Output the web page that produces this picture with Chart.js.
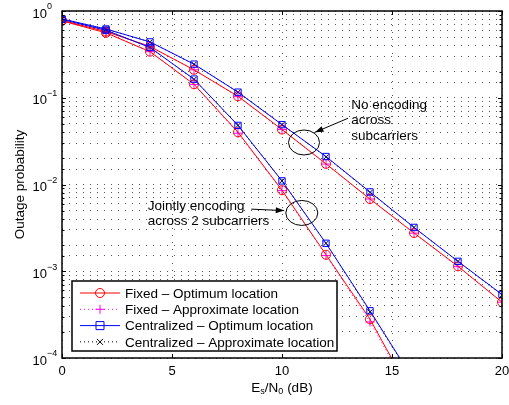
<!DOCTYPE html>
<html>
<head>
<meta charset="utf-8">
<script src="https://cdn.jsdelivr.net/npm/chart.js@4"></script>
<style>
  html, body { margin: 0; padding: 0; background: #fff; }
  #box { width: 509px; height: 405px; position: relative; }
</style>
</head>
<body>
<div id="box"><canvas id="plotGraph"></canvas></div>
<script>
// データ (Es/N0 [dB] と Outage probability)
const snrUpper = [0, 2, 4, 6, 8, 10, 12, 14, 16, 18, 20]
const snrLower = [0, 2, 4, 6, 8, 10, 12, 14, 16]

// No encoding across subcarriers
const fixedOptUpper = [0.78, 0.58, 0.39, 0.21, 0.104, 0.043, 0.0173, 0.0068, 0.00276, 0.00114, 0.00044]
const fixedApxUpper = [0.78, 0.58, 0.39, 0.21, 0.103, 0.043, 0.0172, 0.0068, 0.00275, 0.00113, 0.00044]
const centOptUpper = [0.81, 0.62, 0.44, 0.244, 0.116, 0.049, 0.021, 0.0082, 0.0032, 0.0013, 0.00054]
const centApxUpper = [0.81, 0.62, 0.44, 0.243, 0.116, 0.049, 0.0208, 0.0081, 0.0032, 0.0013, 0.00053]

// Jointly encoding across 2 subcarriers
const fixedOptLower = [0.77, 0.56, 0.34, 0.143, 0.040, 0.0086, 0.00155, 0.00028, 0.000034]
const fixedApxLower = [0.77, 0.56, 0.34, 0.142, 0.039, 0.0085, 0.00152, 0.00026, 0.000033]
const centOptLower = [0.80, 0.60, 0.38, 0.164, 0.048, 0.011, 0.0021, 0.00035, 0.000055]
const centApxLower = [0.80, 0.60, 0.38, 0.163, 0.048, 0.011, 0.0021, 0.00034, 0.000054]

const xTicks = [0, 5, 10, 15, 20]
const yTicks = [1, 0.1, 0.01, 0.001, 0.0001]
const yTickExp = ["0", "\u22121", "\u22122", "\u22123", "\u22124"]
const legendLabels = [
  "Fixed \u2013 Optimum location",
  "Fixed \u2013 Approximate location",
  "Centralized \u2013 Optimum location",
  "Centralized \u2013 Approximate location"
]

const FONT = '"Liberation Sans", Arial, sans-serif'

// 2つのグループを null で区切って1本のデータにする
function joinGroups(upper, lower) {
  let arr = []
  for (let i = 0; i < snrUpper.length; i++) arr.push({ x: snrUpper[i], y: upper[i] })
  arr.push({ x: 20, y: null })
  for (let i = 0; i < snrLower.length; i++) arr.push({ x: snrLower[i], y: lower[i] })
  return arr
}

// マーカー描画
function drawMarker(ctx, style, x, y, color) {
  ctx.save()
  ctx.strokeStyle = color
  ctx.lineWidth = 1
  ctx.setLineDash([])
  ctx.beginPath()
  if (style === 'circle') {
    ctx.arc(x, y, 4.5, 0, Math.PI * 2)
  } else if (style === 'rect') {
    ctx.rect(x - 4, y - 4, 8, 8)
  } else if (style === 'cross') {
    ctx.moveTo(x - 4.5, y); ctx.lineTo(x + 4.5, y)
    ctx.moveTo(x, y - 4.5); ctx.lineTo(x, y + 4.5)
  } else if (style === 'crossRot') {
    ctx.moveTo(x - 3, y - 3); ctx.lineTo(x + 3, y + 3)
    ctx.moveTo(x + 3, y - 3); ctx.lineTo(x - 3, y + 3)
  }
  ctx.stroke()
  ctx.restore()
}

// 軸ラベル・枠・凡例・注釈
const decorPlugin = {
  id: 'decor',
  afterDraw(chart) {
    const ctx = chart.ctx
    const xs = chart.scales.x
    const ys = chart.scales.y
    const a = chart.chartArea

    ctx.save()
    // 枠と目盛り
    ctx.strokeStyle = '#000'
    ctx.lineWidth = 1
    ctx.setLineDash([])
    ctx.beginPath()
    for (const v of xTicks) {
      const px = Math.round(xs.getPixelForValue(v)) + 0.5
      ctx.moveTo(px, a.bottom); ctx.lineTo(px, a.bottom - 4)
      ctx.moveTo(px, a.top); ctx.lineTo(px, a.top + 4)
    }
    for (const t of ys.ticks) {
      const py = Math.round(ys.getPixelForValue(t.value)) + 0.5
      const len = t.major ? 4 : 2.5
      ctx.moveTo(a.left, py); ctx.lineTo(a.left + len, py)
      ctx.moveTo(a.right, py); ctx.lineTo(a.right - len, py)
    }
    ctx.stroke()
    ctx.lineWidth = 1.5
    ctx.strokeRect(a.left, a.top, a.right - a.left, a.bottom - a.top)

    // 目盛りラベル
    ctx.fillStyle = '#000'
    ctx.font = '13px ' + FONT
    ctx.textAlign = 'center'
    ctx.textBaseline = 'middle'
    for (const v of xTicks) {
      ctx.fillText(String(v), xs.getPixelForValue(v), a.bottom + 13)
    }
    for (let i = 0; i < yTicks.length; i++) {
      const py = ys.getPixelForValue(yTicks[i])
      ctx.font = '13px ' + FONT
      ctx.textAlign = 'right'
      ctx.fillText('10', a.left - 15, py + 3)
      ctx.font = '9px ' + FONT
      ctx.textAlign = 'left'
      ctx.fillText(yTickExp[i], a.left - 15, py - 4)
    }

    // 軸タイトル
    ctx.font = '13.5px ' + FONT
    ctx.save()
    ctx.translate(20, (a.top + a.bottom) / 2)
    ctx.rotate(-Math.PI / 2)
    ctx.textAlign = 'center'
    ctx.fillText('Outage probability', 0, 0)
    ctx.restore()

    const cx = (a.left + a.right) / 2
    const ty = a.bottom + 30
    const parts = [['E', 13.5, 0], ['s', 9, 4], ['/N', 13.5, 0], ['0', 9, 4], [' (dB)', 13.5, 0]]
    let total = 0
    for (const p of parts) { ctx.font = p[1] + 'px ' + FONT; total += ctx.measureText(p[0]).width }
    let xx = cx - total / 2
    ctx.textAlign = 'left'
    for (const p of parts) {
      ctx.font = p[1] + 'px ' + FONT
      ctx.fillText(p[0], xx, ty + p[2])
      xx += ctx.measureText(p[0]).width
    }

    // 注釈 (楕円・矢印・テキスト)
    ctx.lineWidth = 1
    ctx.strokeStyle = '#000'
    ctx.beginPath()
    ctx.ellipse(xs.getPixelForValue(11.0), ys.getPixelForValue(0.0305), 15.5, 12.5, 0, 0, Math.PI * 2)
    ctx.stroke()
    ctx.beginPath()
    ctx.ellipse(xs.getPixelForValue(10.9), ys.getPixelForValue(0.0047), 16, 12.5, 0, 0, Math.PI * 2)
    ctx.stroke()
    drawArrow(ctx, xs.getPixelForValue(13.0), ys.getPixelForValue(0.058), xs.getPixelForValue(11.5), ys.getPixelForValue(0.040))
    drawArrow(ctx, xs.getPixelForValue(8.6), ys.getPixelForValue(0.0052), xs.getPixelForValue(10.1), ys.getPixelForValue(0.0050))

    ctx.font = '13.5px ' + FONT
    ctx.textAlign = 'left'
    ctx.fillStyle = '#000'
    const tx1 = xs.getPixelForValue(13.15)
    const ty1 = ys.getPixelForValue(0.082)
    ctx.fillText('No encoding', tx1, ty1)
    ctx.fillText('across', tx1, ty1 + 15.5)
    ctx.fillText('subcarriers', tx1, ty1 + 31)
    const tx2 = xs.getPixelForValue(3.9)
    const ty2 = ys.getPixelForValue(0.0056)
    ctx.fillText('Jointly encoding', tx2, ty2)
    ctx.fillText('across 2 subcarriers', tx2, ty2 + 15)

    // 凡例
    const lx = a.left + 10, ly = a.bottom - 77, lw = 265, lh = 70
    ctx.fillStyle = '#fff'
    ctx.fillRect(lx, ly, lw, lh)
    ctx.lineWidth = 1.5
    ctx.strokeRect(lx, ly, lw, lh)
    chart.data.datasets.forEach((ds, i) => {
      const ey = ly + 12 + i * 16.3
      ctx.save()
      ctx.strokeStyle = ds.borderColor
      ctx.lineWidth = 1
      ctx.setLineDash(ds.borderDash || [])
      ctx.beginPath()
      ctx.moveTo(lx + 8, ey); ctx.lineTo(lx + 48, ey)
      ctx.stroke()
      ctx.restore()
      drawMarker(ctx, ds.pointStyle, lx + 28, ey, ds.pointBorderColor)
      ctx.fillStyle = '#000'
      ctx.font = '13.5px ' + FONT
      ctx.textAlign = 'left'
      ctx.fillText(legendLabels[i], lx + 53, ey + 1)
    })
    ctx.restore()
  }
}

function drawArrow(ctx, x1, y1, x2, y2) {
  const ang = Math.atan2(y2 - y1, x2 - x1)
  ctx.beginPath()
  ctx.moveTo(x1, y1); ctx.lineTo(x2, y2)
  ctx.stroke()
  ctx.beginPath()
  ctx.moveTo(x2, y2)
  ctx.lineTo(x2 - 9 * Math.cos(ang - 0.35), y2 - 9 * Math.sin(ang - 0.35))
  ctx.lineTo(x2 - 9 * Math.cos(ang + 0.35), y2 - 9 * Math.sin(ang + 0.35))
  ctx.closePath()
  ctx.fillStyle = '#000'
  ctx.fill()
}

function makeDataset(label, upper, lower, color, markerColor, style, dash) {
  return {
    label: label,
    data: joinGroups(upper, lower),
    borderColor: color,
    borderWidth: 1,
    borderDash: dash,
    pointStyle: style,
    pointRadius: style === 'crossRot' ? 3.5 : 4.5,
    pointBorderColor: markerColor,
    pointBackgroundColor: 'rgba(0,0,0,0)',
    pointBorderWidth: 1,
    pointHoverRadius: 0,
    tension: 0,
    fill: false,
    spanGaps: false
  }
}

let mainChartObj
function drawGraph() {
  const mainData = {
    datasets: [
      makeDataset(legendLabels[0], fixedOptUpper, fixedOptLower, '#ff0000', '#ff0000', 'circle', []),
      makeDataset(legendLabels[1], fixedApxUpper, fixedApxLower, '#ff00ff', '#ff00ff', 'cross', [1, 3]),
      makeDataset(legendLabels[2], centOptUpper, centOptLower, '#0000ff', '#0000ff', 'rect', []),
      makeDataset(legendLabels[3], centApxUpper, centApxLower, '#000000', '#000000', 'crossRot', [1, 3])
    ]
  }
  // 実線を点線の上に描く
  mainData.datasets[0].order = 1
  mainData.datasets[2].order = 0
  mainData.datasets[1].order = 3
  mainData.datasets[3].order = 2

  const mainOptions = {
    responsive: true,
    maintainAspectRatio: false,
    animation: false,
    events: [],
    layout: { padding: { left: 62, top: 11, right: 7, bottom: 47 } },
    plugins: { legend: { display: false }, tooltip: { enabled: false } },
    scales: {
      x: {
        type: 'linear',
        min: 0,
        max: 20,
        ticks: { display: false, stepSize: 5, autoSkip: false },
        grid: { color: '#555', lineWidth: 1, drawTicks: false },
        border: { display: false, dash: [1, 6] }
      },
      y: {
        type: 'logarithmic',
        min: 0.0001,
        max: 1,
        ticks: { display: false, autoSkip: false },
        grid: { color: '#555', lineWidth: 1, drawTicks: false },
        border: { display: false, dash: [1, 6] }
      }
    }
  }

  mainChartObj = new Chart(document.getElementById('plotGraph'), {
    type: 'line',
    data: mainData,
    options: mainOptions,
    plugins: [decorPlugin]
  })
}

drawGraph()
</script>
</body>
</html>
